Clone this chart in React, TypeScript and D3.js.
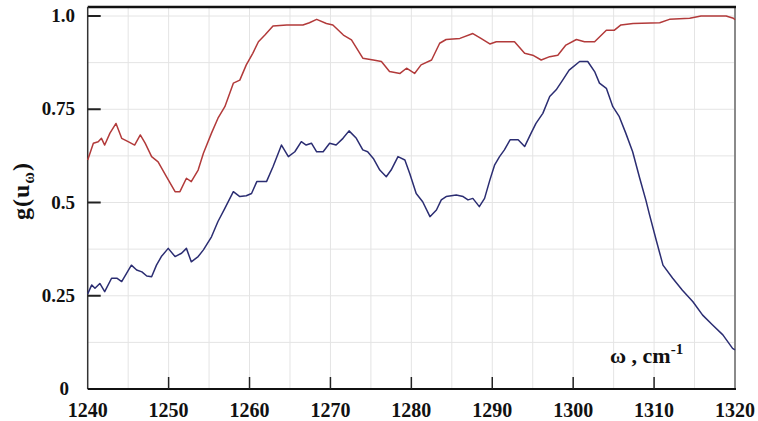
import { useEffect, useRef } from "react";
import * as d3 from "d3";

// omega (cm^-1), g values
const redOmega = [
  1240, 1240.7, 1241.3, 1241.7, 1242.1, 1242.75, 1243.5, 1244.2, 1245, 1245.8,
  1246.5, 1247.1, 1247.9, 1248.7, 1249.75, 1250.8, 1251.4, 1252.2, 1252.8, 1253.65,
  1254.3, 1255.3, 1256.1, 1256.95, 1258, 1258.8, 1259.6, 1260.4, 1261.1, 1261.9,
  1262.9, 1264.6, 1266.6, 1267.4, 1268.3, 1269.5, 1270.3, 1271.6, 1272.6, 1274,
  1275.3, 1276.3, 1277.3, 1278.6, 1279.4, 1280.4, 1281.2, 1282.5, 1283.5, 1284.3,
  1286, 1287.6, 1288.6, 1289.7, 1290.5, 1292.75, 1294, 1295, 1296.05, 1297.1,
  1298.1, 1299.1, 1300.4, 1301.4, 1302.65, 1304.1, 1305.1, 1305.9, 1307.4, 1310.7,
  1311.9, 1314.4, 1315.8, 1318.9, 1319.8, 1320,
];
const redG = [
  0.614, 0.659, 0.663, 0.672, 0.654, 0.686, 0.712, 0.672, 0.663, 0.654,
  0.681, 0.659, 0.623, 0.609, 0.569, 0.529, 0.529, 0.565, 0.556, 0.587,
  0.632, 0.686, 0.726, 0.757, 0.82, 0.828, 0.869, 0.9, 0.931, 0.949,
  0.973, 0.976, 0.976, 0.982, 0.991, 0.98, 0.976, 0.949, 0.936, 0.887,
  0.882, 0.878, 0.851, 0.846, 0.86, 0.846, 0.869, 0.882, 0.927, 0.937,
  0.94, 0.953, 0.94, 0.925, 0.931, 0.931, 0.9, 0.895, 0.882, 0.891,
  0.895, 0.922, 0.937, 0.931, 0.931, 0.962, 0.962, 0.976, 0.98, 0.982,
  0.991, 0.994, 1.0, 1.0, 0.994, 0.99,
];

const blueOmega = [
  1240, 1240.5, 1240.9, 1241.5, 1242.1, 1242.95, 1243.6, 1244.2, 1244.8, 1245.4,
  1246.05, 1246.7, 1247.3, 1247.9, 1248.5, 1249.1, 1249.95, 1250.8, 1251.6, 1252.2,
  1252.8, 1253.65, 1254.3, 1255.3, 1256.1, 1256.95, 1258, 1258.8, 1259.6, 1260.25,
  1260.9, 1262.1, 1262.9, 1263.95, 1264.8, 1265.6, 1266.4, 1267, 1267.65, 1268.3,
  1269.1, 1269.9, 1270.7, 1271.55, 1272.3, 1273.2, 1274, 1274.6, 1275.3, 1276.1,
  1276.9, 1277.5, 1278.35, 1279.2, 1279.8, 1280.6, 1281.4, 1282.3, 1283.1, 1283.7,
  1284.3, 1285.55, 1286.4, 1287, 1287.6, 1288.4, 1289.05, 1289.7, 1290.3, 1290.9,
  1291.5, 1292.2, 1293.2, 1294, 1294.8, 1295.4, 1296.25, 1297.1, 1297.9, 1298.7,
  1299.5, 1300.8, 1301.8, 1302.65, 1303.25, 1304.1, 1304.9, 1305.7, 1306.5, 1307.35,
  1308.2, 1309, 1309.4, 1310.25, 1311.1, 1312.3, 1313.5, 1314.8, 1316, 1317.2,
  1318.5, 1319.7, 1320,
];
const blueG = [
  0.255, 0.279, 0.27, 0.283, 0.261, 0.297, 0.297, 0.288, 0.31, 0.332,
  0.319, 0.314, 0.303, 0.301, 0.332, 0.355, 0.377, 0.355, 0.364, 0.377,
  0.341, 0.355, 0.373, 0.408, 0.449, 0.484, 0.529, 0.516, 0.518, 0.524,
  0.556, 0.556, 0.596, 0.654, 0.623, 0.636, 0.663, 0.654, 0.659, 0.636,
  0.636, 0.659, 0.654, 0.672, 0.692, 0.672, 0.641, 0.636, 0.618, 0.587,
  0.569, 0.587, 0.623, 0.614, 0.578, 0.524, 0.502, 0.462, 0.48, 0.507,
  0.516, 0.52, 0.516, 0.507, 0.511, 0.489, 0.511, 0.56, 0.601, 0.623,
  0.641, 0.668, 0.668, 0.65, 0.686, 0.712, 0.739, 0.784, 0.802, 0.828,
  0.855, 0.878, 0.878, 0.851, 0.82, 0.806, 0.757, 0.73, 0.686, 0.636,
  0.567, 0.505, 0.47, 0.4, 0.332, 0.297, 0.265, 0.234, 0.198, 0.172,
  0.145, 0.109, 0.105,
];

const xTicks = [1240, 1250, 1260, 1270, 1280, 1290, 1300, 1310, 1320];
const yTicks = [0, 0.25, 0.5, 0.75, 1.0];
const yTickLabels = ["0", "0.25", "0.5", "0.75", "1.0"];

const W = 758;
const H = 421;
const FONT = "'Liberation Serif', 'Times New Roman', serif";

export default function App() {
  const ref = useRef<SVGSVGElement>(null);

  useEffect(() => {
    const svg = d3.select(ref.current);
    svg.selectAll("*").remove();

    const left = 87.7;
    const right = 735;
    const bottom = 389;
    const top = 7;

    const x = d3.scaleLinear().domain([1240, 1320]).range([left, right]);
    const y = d3.scaleLinear().domain([0, 1]).range([bottom, 16]);

    // grid
    const grid = svg.append("g").attr("stroke", "#e4e4e4").attr("stroke-width", 1);
    d3.range(1245, 1320, 5).forEach((v) => {
      grid.append("line").attr("x1", x(v)).attr("x2", x(v)).attr("y1", top).attr("y2", bottom);
    });
    d3.range(0.125, 1.01, 0.125).forEach((v) => {
      grid.append("line").attr("x1", left).attr("x2", right).attr("y1", y(v)).attr("y2", y(v));
    });

    // frame
    svg.append("line").attr("x1", right).attr("x2", right).attr("y1", top).attr("y2", bottom)
      .attr("stroke", "#8a8a8a").attr("stroke-width", 2);
    svg.append("line").attr("x1", left).attr("x2", right + 1).attr("y1", top).attr("y2", top)
      .attr("stroke", "#111").attr("stroke-width", 2.5);
    svg.append("line").attr("x1", left).attr("x2", left).attr("y1", top).attr("y2", bottom)
      .attr("stroke", "#333").attr("stroke-width", 1.5);
    svg.append("line").attr("x1", left).attr("x2", right + 1).attr("y1", bottom).attr("y2", bottom)
      .attr("stroke", "#111").attr("stroke-width", 2);

    // ticks
    yTicks.filter((v) => v > 0).forEach((v) => {
      svg.append("line").attr("x1", left).attr("x2", left + 13).attr("y1", y(v)).attr("y2", y(v))
        .attr("stroke", "#222").attr("stroke-width", 2);
    });
    xTicks.filter((v) => v > 1240 && v < 1320).forEach((v) => {
      svg.append("line").attr("x1", x(v)).attr("x2", x(v)).attr("y1", bottom).attr("y2", bottom - 12)
        .attr("stroke", "#222").attr("stroke-width", 1.5);
    });

    // tick labels
    svg.append("g").selectAll("text").data(yTicks).join("text")
      .attr("x", (d) => (d === 0 ? 69 : 75))
      .attr("y", (d) => (d === 0 ? 395 : y(d) + 6))
      .attr("text-anchor", "end")
      .attr("font-family", FONT).attr("font-weight", "bold").attr("font-size", 19)
      .attr("fill", "#111")
      .text((d, i) => yTickLabels[i]);
    svg.append("g").selectAll("text").data(xTicks).join("text")
      .attr("x", (d) => x(d)).attr("y", 417)
      .attr("text-anchor", "middle")
      .attr("font-family", FONT).attr("font-weight", "bold").attr("font-size", 20)
      .attr("fill", "#111")
      .text((d) => String(d));

    // curves
    const line = d3.line<[number, number]>().x((d) => x(d[0])).y((d) => y(d[1]));
    const red = redOmega.map((w, i) => [w, redG[i]] as [number, number]);
    const blue = blueOmega.map((w, i) => [w, blueG[i]] as [number, number]);
    svg.append("path").attr("d", line(red)).attr("fill", "none")
      .attr("stroke", "#b23a3a").attr("stroke-width", 1.5).attr("stroke-linejoin", "round");
    svg.append("path").attr("d", line(blue)).attr("fill", "none")
      .attr("stroke", "#2b2d72").attr("stroke-width", 1.5).attr("stroke-linejoin", "round");

    // y axis title
    const yt = svg.append("text")
      .attr("transform", "translate(29,191) rotate(-90)")
      .attr("text-anchor", "middle")
      .attr("font-family", FONT).attr("font-weight", "bold").attr("font-size", 24)
      .attr("letter-spacing", 1)
      .attr("fill", "#111");
    yt.append("tspan").text("g(u");
    yt.append("tspan").attr("font-size", 16).attr("dy", 5).text("ω");
    yt.append("tspan").attr("dy", -5).text(")");

    // x axis title
    const xt = svg.append("text")
      .attr("x", 610).attr("y", 363)
      .attr("font-family", FONT).attr("font-weight", "bold").attr("font-size", 22)
      .attr("fill", "#111");
    xt.append("tspan").text("ω , cm");
    xt.append("tspan").attr("font-size", 15).attr("dy", -9).text("-1");
  }, []);

  return (
    <svg
      ref={ref}
      width={W}
      height={H}
      style={{ position: "absolute", left: 0, top: 0, background: "#fff" }}
    />
  );
}
